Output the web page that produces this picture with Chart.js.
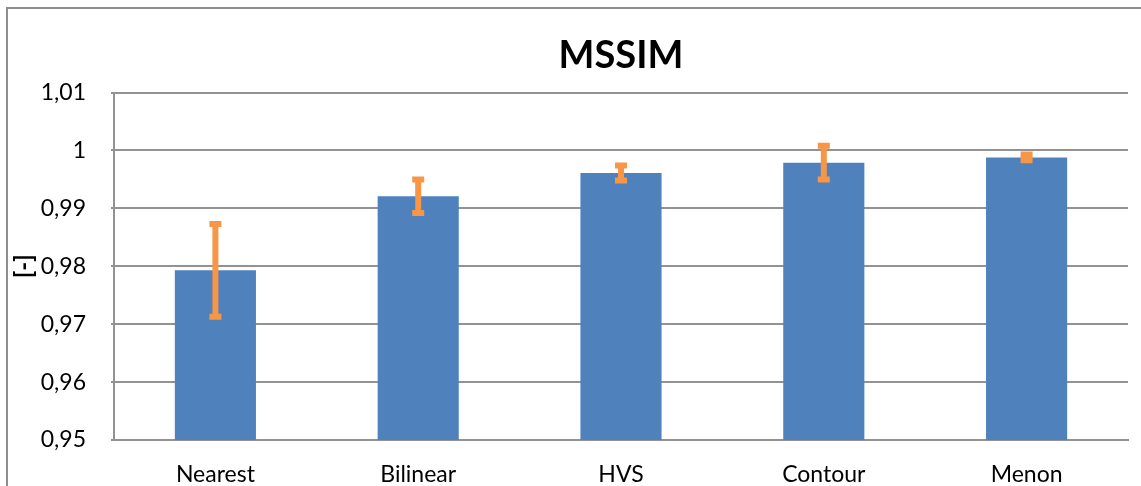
<!DOCTYPE html>
<html>
<head>
<meta charset="utf-8">
<title>MSSIM</title>
<script src="https://cdn.jsdelivr.net/npm/chart.js@4/dist/chart.umd.min.js"></script>
<style>
  html, body { margin: 0; padding: 0; background: #ffffff; overflow: hidden; }
  #wrap { position: relative; width: 1141px; height: 486px; }
  #frame {
    position: absolute; left: 6px; top: 7px; width: 1300px; height: 700px;
    border-left: 2px solid #8e8e8e; border-top: 2px solid #8e8e8e;
  }
  #chart { position: absolute; left: 0; top: 0; }
</style>
</head>
<body>
<div id="wrap">
  <div id="frame"></div>
  <canvas id="chart" width="1141" height="486"></canvas>
</div>
<script>
// Interpolation methods compared
const categories = ['Nearest', 'Bilinear', 'HVS', 'Contour', 'Menon'];
// Mean MSSIM per method
const mssimMean = [0.9793, 0.9921, 0.9961, 0.9979, 0.9988];
// Half-length of the error bar (+/-)
const mssimError = [0.0080, 0.0029, 0.0013, 0.0029, 0.0005];
// Value axis range and step
const yMin = 0.95;
const yMax = 1.01;
const yStep = 0.01;

const BAR_COLOR = '#4F81BD';
const ERR_COLOR = '#F79646';
const GRID_COLOR = '#929292';
const FONT = 'Lato, "Open Sans", "Liberation Sans", sans-serif';

// Formats ticks with a decimal comma: 1,01 / 1 / 0,99 ...
function commaNumber(v) {
  return String(Number(v.toFixed(2))).replace('.', ',');
}

// Draws vertical error bars with flat caps on top of each bar
const errorBars = {
  id: 'errorBars',
  afterDatasetsDraw(chart) {
    const meta = chart.getDatasetMeta(0);
    const y = chart.scales.y;
    const ctx = chart.ctx;
    ctx.save();
    ctx.strokeStyle = ERR_COLOR;
    ctx.lineCap = 'butt';
    ctx.lineWidth = 6;
    meta.data.forEach((bar, i) => {
      const hi = y.getPixelForValue(mssimMean[i] + mssimError[i]);
      const lo = y.getPixelForValue(mssimMean[i] - mssimError[i]);
      const x = bar.x;
      ctx.beginPath();
      ctx.moveTo(x, hi);
      ctx.lineTo(x, lo);
      ctx.moveTo(x - 6, hi);
      ctx.lineTo(x + 6, hi);
      ctx.moveTo(x - 6, lo);
      ctx.lineTo(x + 6, lo);
      ctx.stroke();
    });
    ctx.restore();
  }
};

new Chart(document.getElementById('chart'), {
  type: 'bar',
  data: {
    labels: categories,
    datasets: [{
      label: 'MSSIM',
      data: mssimMean,
      backgroundColor: BAR_COLOR,
      borderWidth: 0,
      barPercentage: 0.4,
      categoryPercentage: 1.0
    }]
  },
  options: {
    responsive: false,
    animation: false,
    layout: { padding: { left: 8, right: 13, top: 0, bottom: 0 } },
    plugins: {
      legend: { display: false },
      tooltip: { enabled: false },
      title: {
        display: true,
        text: 'MSSIM',
        color: '#000000',
        fullSize: false,
        font: { family: FONT, size: 38, weight: 'bold' },
        padding: { top: 33, bottom: 14 }
      }
    },
    scales: {
      x: {
        grid: { display: false },
        border: { display: true, color: GRID_COLOR, width: 2 },
        ticks: { color: '#000000', font: { family: FONT, size: 23 }, padding: 13 },
        afterFit(scale) { scale.height = 46; }
      },
      y: {
        min: yMin,
        max: yMax,
        ticks: {
          stepSize: yStep,
          color: '#000000',
          font: { family: FONT, size: 23 },
          padding: 25,
          callback: (v) => commaNumber(v)
        },
        grid: { color: GRID_COLOR, lineWidth: 2, tickLength: 3 },
        border: { display: true, color: GRID_COLOR, width: 2 },
        title: {
          display: true,
          text: '[-]',
          color: '#000000',
          font: { family: FONT, size: 24, weight: 'bold' },
          padding: { top: 2, bottom: 0 }
        },
        afterFit(scale) { scale.width = 106; }
      }
    }
  },
  plugins: [errorBars]
});
</script>
</body>
</html>
